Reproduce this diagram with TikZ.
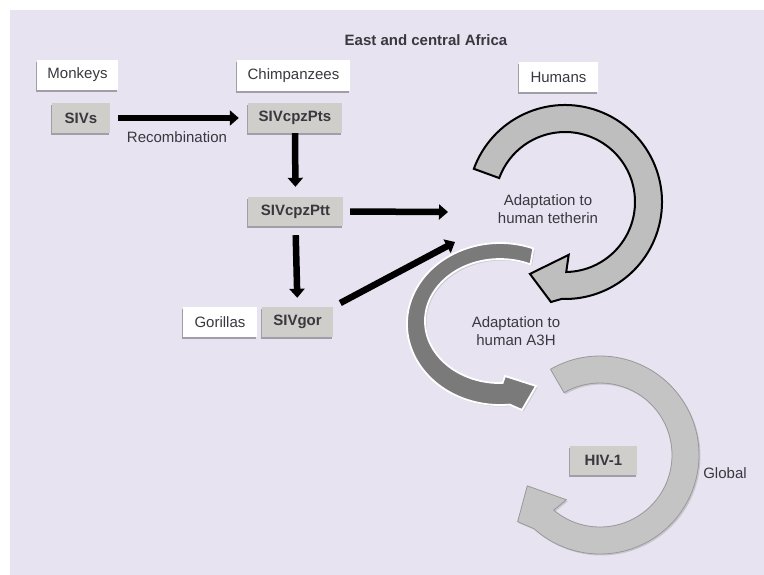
\documentclass[tikz,border=0pt]{standalone}
\usepackage{fontspec}
\setmainfont{Liberation Sans}
\usetikzlibrary{arrows.meta,shadows}
\definecolor{bg}{RGB}{231,227,241}
\definecolor{boxgray}{RGB}{207,206,202}
\definecolor{txt}{RGB}{58,56,62}
\definecolor{arrowlight}{RGB}{190,190,190}
\definecolor{arrowdark}{RGB}{122,122,122}
\definecolor{arrowglob}{RGB}{196,196,196}
\begin{document}
\begin{tikzpicture}[x=1pt,y=-1pt,
  font=\fontsize{15}{18}\selectfont, text=txt,
  basebox/.style={inner sep=0pt, anchor=center,
    drop shadow={shadow xshift=-1pt, shadow yshift=-2pt, fill=black, opacity=0.3}},
  hostbox/.style={basebox, fill=white},
  virbox/.style={basebox, fill=boxgray, font=\fontsize{15}{18}\selectfont\bfseries},
  flow/.style={line width=6.5pt, draw=black, -{Triangle[length=9pt,width=15pt]}},
  lbl/.style={inner sep=0pt, align=center},
  curvA/.style={fill=arrowlight, draw=black, line width=2pt, line join=miter},
  curvB/.style={fill=arrowdark, draw=white, line width=1.8pt, line join=miter,
    drop shadow={shadow xshift=1.5pt, shadow yshift=-1.5pt, opacity=0.25}},
  curvC/.style={fill=arrowglob, draw=black!40, line width=0.8pt, line join=miter,
    drop shadow={shadow xshift=1.5pt, shadow yshift=-1.5pt, opacity=0.3}}
]
\useasboundingbox (0,0) rectangle (764,575);
\fill[white] (0,0) rectangle (764,575);
\fill[bg] (10,10) rectangle (764,575);

% title
\node[lbl, font=\fontsize{15}{18}\selectfont\bfseries] (title) at (426,40) {East and central Africa};

% host boxes
\node[hostbox, minimum width=81pt, minimum height=30pt] (monkeys) at (77.5,75) {Monkeys};
\node[hostbox, minimum width=113pt, minimum height=31pt] (chimps) at (293.5,75.5) {Chimpanzees};
\node[hostbox, minimum width=79pt, minimum height=30pt] (humans) at (558.5,77) {Humans};
\node[hostbox, minimum width=74pt, minimum height=30pt] (gorillas) at (220,322) {Gorillas};

% virus boxes
\node[virbox, minimum width=58pt, minimum height=30pt] (sivs) at (81,118) {SIVs};
\node[virbox, minimum width=94pt, minimum height=30pt] (pts) at (295,118) {SIVcpzPts};
\node[virbox, minimum width=95pt, minimum height=29pt] (ptt) at (295.5,211.5) {SIVcpzPtt};
\node[virbox, minimum width=71pt, minimum height=30pt] (gor) at (297.5,322) {SIVgor};
\node[virbox, minimum width=67pt, minimum height=29pt] (hiv) at (603.5,460.5) {HIV-1};

% labels
\node[lbl] (recomb) at (177,137) {Recombination};
\node[lbl] (tetherin) at (548,209) {Adaptation to\\human tetherin};
\node[lbl] (a3h) at (516,331) {Adaptation to\\human A3H};
\node[lbl] (global) at (725,473) {Global};

% curved arrow: adaptation to human A3H (dark)
\path[curvB]
  (533.3,248.4) arc[start angle=-69, end angle=-276, x radius=93, y radius=81]
  -- (522,410) -- (536,386) -- (505,376)
  -- (502.6,383) arc[start angle=-272, end angle=-66, x radius=75, y radius=62]
  -- cycle;

% curved arrow: adaptation to human tetherin
\begin{scope}[shift={(565,202)}]
\path[curvA] (-160:97) arc[start angle=-160, end angle=92, radius=97]
  -- (98:101) -- (116:80) -- (86:53) -- (89:70)
  arc[start angle=89, end angle=-160, radius=70] -- cycle;
\end{scope}

% curved arrow: global
\begin{scope}[shift={(600,455)}]
\path[curvC] (-120:99) arc[start angle=-120, end angle=132, radius=99]
  -- (141:106) -- (157:79) -- (127:56) -- (130:72)
  arc[start angle=130, end angle=-120, radius=72] -- cycle;
\end{scope}

% free ends of the arrows into humans
\coordinate (tA) at (448,212);
\coordinate (tB) at (455,242);

% straight arrows
\draw[flow, shorten <=8pt, shorten >=9pt] (sivs.east) -- (pts.west);
\draw[flow, shorten >=10pt] (pts.south) -- (ptt.north);
\draw[flow, shorten <=9pt, shorten >=9pt] (ptt.south) -- (gor.north);
\draw[flow, shorten <=7pt] (ptt.east) -- (tA);
\draw[flow, shorten <=8pt] (gor.north east) -- (tB);
\end{tikzpicture}
\end{document}
